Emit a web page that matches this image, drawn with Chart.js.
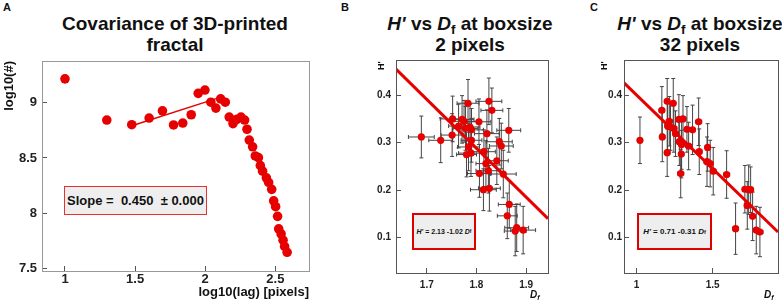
<!DOCTYPE html>
<html>
<head>
<meta charset="utf-8">
<script src="https://cdn.jsdelivr.net/npm/chart.js@4/dist/chart.umd.min.js"></script>
<style>
  body { margin: 0; width: 782px; height: 304px; position: relative; overflow: hidden; background: #fff;
         font-family: "Liberation Sans", Arial, sans-serif; color: #111; }
  canvas { position: absolute; top: 0; }
  .title { position: absolute; font-weight: bold; text-align: center; white-space: nowrap; }
  .letter { position: absolute; font-weight: bold; font-size: 11px; top: 1px; }
  .box { position: absolute; background: #eeeeee; border: 2px solid #e00000; box-sizing: border-box;
         display: flex; align-items: center; justify-content: center; font-weight: bold; white-space: nowrap; }
  .ytitle { position: absolute; font-weight: bold; font-size: 9px; transform: rotate(-90deg); transform-origin: left top; }
  .xtitle { position: absolute; font-weight: bold; font-style: italic; font-size: 10px; }
  sub { font-size: 70%; line-height: 0; vertical-align: -0.3em; }
</style>
</head>
<body>
<div class="letter" style="left:3px">A</div>
<div class="letter" style="left:341px">B</div>
<div class="letter" style="left:590px">C</div>

<div class="title" style="left:40px;width:270px;top:13px;font-size:19px;line-height:21px">Covariance of 3D-printed<br>fractal</div>
<div class="title" style="left:370px;width:200px;top:13px;font-size:19px;line-height:21px"><i>H'</i> vs <i>D</i><sub>f</sub> at boxsize<br>2 pixels</div>
<div class="title" style="left:600px;width:200px;top:13px;font-size:19px;line-height:21px"><i>H'</i> vs <i>D</i><sub>f</sub> at boxsize<br>32 pixels</div>

<canvas id="chartA" width="320" height="304" style="left:0px;width:320px;height:304px"></canvas>
<canvas id="chartB" width="200" height="304" style="left:360px;width:200px;height:304px"></canvas>
<canvas id="chartC" width="192" height="304" style="left:590px;width:192px;height:304px"></canvas>

<div class="box" style="left:64px;top:186px;width:143px;height:29px;font-size:13px;border-width:1.5px;border-color:#e83030">Slope =&nbsp; 0.450 &nbsp;± 0.000</div>
<div class="box" style="left:412px;top:213px;width:64px;height:37px;font-size:7px"><i>H'</i>&nbsp;= 2.13 -1.02&nbsp;<i>D</i><sub>f</sub></div>
<div class="box" style="left:637px;top:213px;width:75px;height:37px;font-size:8px"><i>H'</i>&nbsp;= 0.71 -0.31&nbsp;<i>D</i><sub>f</sub></div>

<div class="ytitle" style="left:376px;top:70px">H'</div>
<div class="ytitle" style="left:599px;top:70px">H'</div>
<div class="xtitle" style="left:530px;top:289px">D<sub>f</sub></div>
<div class="xtitle" style="left:764px;top:289px">D<sub>f</sub></div>

<script>
// panel A: covariance
const aLag = [1.0, 1.298, 1.476, 1.60, 1.695, 1.774, 1.84, 1.90, 1.95, 1.998, 2.04, 2.076, 2.11, 2.143,
  2.171, 2.198, 2.226, 2.255, 2.281, 2.298, 2.314, 2.338, 2.357, 2.379, 2.393, 2.409, 2.436, 2.452,
  2.474, 2.488, 2.502, 2.516, 2.524, 2.541, 2.555, 2.566, 2.584];
const aCount = [9.214, 8.842, 8.80, 8.86, 8.925, 8.798, 8.815, 8.89, 9.083, 9.113, 9.003, 8.95, 9.033, 9.003,
  8.869, 8.81, 8.848, 8.869, 8.842, 8.759, 8.661, 8.601, 8.518, 8.503, 8.431, 8.381, 8.321, 8.279,
  8.217, 8.113, 8.06, 7.973, 7.86, 7.815, 7.758, 7.702, 7.649];
const aFitX = [1.488, 2.095];
const aFitY = [8.795, 9.042];
const aXTicks = [1, 1.5, 2, 2.5];
const aYTicks = [7.5, 8, 8.5, 9];

// panel B: boxsize 2 pixels
const bDf = [1.689, 1.728, 1.751, 1.752, 1.764, 1.771, 1.775, 1.783, 1.778, 1.787, 1.79, 1.784, 1.78, 1.789,
  1.79, 1.805, 1.825, 1.831, 1.821, 1.815, 1.819, 1.806, 1.814, 1.826, 1.824, 1.841, 1.846, 1.85,
  1.865, 1.854, 1.866, 1.862, 1.881, 1.878, 1.894];
const bH = [0.312, 0.305, 0.316, 0.35, 0.335, 0.349, 0.345, 0.383, 0.33, 0.333, 0.327, 0.291, 0.275, 0.278,
  0.305, 0.344, 0.387, 0.368, 0.319, 0.281, 0.256, 0.235, 0.201, 0.204, 0.241, 0.262, 0.302, 0.293,
  0.326, 0.234, 0.17, 0.146, 0.121, 0.114, 0.116];
const bDfErr = [0.026, 0.024, 0.022, 0.025, 0.02, 0.024, 0.026, 0.022, 0.025, 0.02, 0.024, 0.022, 0.02, 0.025,
  0.021, 0.024, 0.026, 0.022, 0.025, 0.023, 0.02, 0.024, 0.026, 0.022, 0.025, 0.023, 0.026, 0.024,
  0.024, 0.026, 0.022, 0.02, 0.024, 0.022, 0.025];
const bHErr = [0.044, 0.047, 0.045, 0.048, 0.046, 0.05, 0.044, 0.05, 0.046, 0.048, 0.045, 0.05, 0.047, 0.049,
  0.046, 0.048, 0.049, 0.047, 0.05, 0.046, 0.048, 0.05, 0.044, 0.048, 0.047, 0.05, 0.049, 0.048,
  0.046, 0.05, 0.05, 0.048, 0.05, 0.052, 0.05];
const bFitX = [1.638, 1.944];
const bFitY = [0.455, 0.140];
const bXTicks = [1.7, 1.8, 1.9];

// panel C: boxsize 32 pixels
const cDf = [1.022, 1.166, 1.169, 1.201, 1.201, 1.215, 1.204, 1.223, 1.241, 1.245, 1.256, 1.278, 1.305, 1.281,
  1.296, 1.294, 1.29, 1.331, 1.342, 1.368, 1.408, 1.412, 1.467, 1.463, 1.484, 1.504, 1.592, 1.651,
  1.712, 1.737, 1.75, 1.728, 1.763, 1.787, 1.811];
const cH = [0.305, 0.368, 0.312, 0.279, 0.387, 0.345, 0.335, 0.333, 0.383, 0.33, 0.319, 0.349, 0.35, 0.302,
  0.296, 0.276, 0.235, 0.328, 0.293, 0.327, 0.344, 0.281, 0.29, 0.26, 0.256, 0.24, 0.233, 0.119,
  0.202, 0.201, 0.201, 0.168, 0.145, 0.116, 0.112];
const cDfErr = [0.005, 0.018, 0.016, 0.018, 0.015, 0.02, 0.016, 0.018, 0.015, 0.02, 0.016, 0.018, 0.02, 0.016,
  0.018, 0.015, 0.02, 0.016, 0.018, 0.015, 0.02, 0.018, 0.016, 0.02, 0.015, 0.018, 0.02, 0.018,
  0.016, 0.018, 0.015, 0.02, 0.016, 0.018, 0.02];
const cHErr = [0.049, 0.05, 0.052, 0.05, 0.048, 0.052, 0.05, 0.049, 0.052, 0.05, 0.048, 0.052, 0.049, 0.05,
  0.052, 0.05, 0.051, 0.048, 0.05, 0.052, 0.05, 0.048, 0.05, 0.052, 0.049, 0.05, 0.05, 0.054,
  0.05, 0.052, 0.048, 0.05, 0.051, 0.05, 0.052];
const cFitX = [0.917, 1.93];
const cFitY = [0.426, 0.112];
const cXTicks = [1, 1.5];
const hTicks = [0.1, 0.2, 0.3, 0.4];

const RED = '#e60000';
const FONT = '"Liberation Sans", Arial, sans-serif';

const frame = {
  id: 'frame',
  afterDraw(chart, args, opts) {
    const { ctx, chartArea: a } = chart;
    ctx.save();
    ctx.strokeStyle = opts.color || '#666';
    ctx.lineWidth = 1;
    ctx.strokeRect(Math.round(a.left) + 0.5, Math.round(a.top) + 0.5, Math.round(a.right - a.left), Math.round(a.bottom - a.top));
    ctx.restore();
  }
};

const errorBars = {
  id: 'errorBars',
  beforeDatasetsDraw(chart, args, opts) {
    if (!opts.xerr) return;
    const pts = chart.data.datasets[0].data;
    const xs = chart.scales.x, ys = chart.scales.y, ctx = chart.ctx;
    ctx.save();
    ctx.strokeStyle = '#444';
    ctx.lineWidth = 1;
    ctx.beginPath();
    pts.forEach((p, i) => {
      const px = xs.getPixelForValue(p.x), py = ys.getPixelForValue(p.y);
      const x0 = xs.getPixelForValue(p.x - opts.xerr[i]), x1 = xs.getPixelForValue(p.x + opts.xerr[i]);
      const y0 = ys.getPixelForValue(p.y - opts.yerr[i]), y1 = ys.getPixelForValue(p.y + opts.yerr[i]);
      ctx.moveTo(x0, py); ctx.lineTo(x1, py);
      ctx.moveTo(x0, py - 2); ctx.lineTo(x0, py + 2);
      ctx.moveTo(x1, py - 2); ctx.lineTo(x1, py + 2);
      ctx.moveTo(px, y0); ctx.lineTo(px, y1);
      ctx.moveTo(px - 2, y0); ctx.lineTo(px + 2, y0);
      ctx.moveTo(px - 2, y1); ctx.lineTo(px + 2, y1);
    });
    ctx.stroke();
    ctx.restore();
  }
};

function pairs(xs, ys) {
  return xs.map((x, i) => ({ x: x, y: ys[i] }));
}

function fixedTicks(list) {
  return scale => { scale.ticks = list.map(v => ({ value: v })); };
}

function makeChart(id, cfg) {
  return new Chart(document.getElementById(id), {
    type: 'scatter',
    data: {
      datasets: [
        { data: pairs(cfg.x, cfg.y), backgroundColor: RED, borderWidth: 0, pointRadius: cfg.radius, order: 2 },
        { data: pairs(cfg.fitX, cfg.fitY), showLine: true, borderColor: RED, borderWidth: cfg.lineWidth,
          pointRadius: 0, order: 1 }
      ]
    },
    options: {
      responsive: false,
      animation: false,
      devicePixelRatio: 1,
      layout: { padding: cfg.padding },
      plugins: {
        legend: { display: false },
        tooltip: { enabled: false },
        frame: { color: cfg.frameColor },
        errorBars: { xerr: cfg.xerr, yerr: cfg.yerr }
      },
      scales: {
        x: {
          min: cfg.xRange[0], max: cfg.xRange[1],
          afterBuildTicks: fixedTicks(cfg.xTicks),
          afterFit: s => { s.height = cfg.xHeight; },
          grid: { drawOnChartArea: false, tickLength: -5, color: '#555' },
          border: { display: false },
          ticks: { padding: cfg.xPad, color: '#222', font: { family: FONT, size: cfg.tickSize, weight: 'bold' },
                   maxRotation: 0, callback: v => String(v) },
          title: cfg.xTitle || { display: false }
        },
        y: {
          min: cfg.yRange[0], max: cfg.yRange[1],
          afterBuildTicks: fixedTicks(cfg.yTicks),
          afterFit: s => { s.width = cfg.yWidth; },
          grid: { drawOnChartArea: false, tickLength: -5, color: '#555' },
          border: { display: false },
          ticks: { padding: cfg.yPad, color: '#222', font: { family: FONT, size: cfg.tickSize, weight: 'bold' },
                   callback: v => String(v) },
          title: cfg.yTitle || { display: false }
        }
      }
    },
    plugins: [frame, errorBars]
  });
}

makeChart('chartA', {
  x: aLag, y: aCount, fitX: aFitX, fitY: aFitY, radius: 4.8, lineWidth: 1.5,
  xRange: [0.836, 2.74], yRange: [7.48, 9.375], xTicks: aXTicks, yTicks: aYTicks,
  padding: { top: 61, right: 11, left: 0, bottom: 0 }, xHeight: 33, yWidth: 42,
  xPad: 6, yPad: 10, tickSize: 13, frameColor: '#999',
  xTitle: { display: true, text: 'log10(lag) [pixels]', align: 'end', color: '#111',
            font: { family: FONT, size: 13, weight: 'bold' }, padding: { top: 0, bottom: 4 } },
  yTitle: { display: true, text: 'log10(#)', align: 'end', color: '#111',
            font: { family: FONT, size: 13, weight: 'bold' }, padding: { top: 2, bottom: 0 } }
});

makeChart('chartB', {
  x: bDf, y: bH, fitX: bFitX, fitY: bFitY, radius: 3.6, lineWidth: 3, xerr: bDfErr, yerr: bHErr,
  xRange: [1.638, 1.944], yRange: [0.0257, 0.474], xTicks: bXTicks, yTicks: hTicks,
  padding: { top: 60, right: 12, left: 0, bottom: 0 }, xHeight: 31, yWidth: 36,
  xPad: 11, yPad: 10, tickSize: 10, frameColor: '#555'
});

makeChart('chartC', {
  x: cDf, y: cH, fitX: cFitX, fitY: cFitY, radius: 3.6, lineWidth: 3, xerr: cDfErr, yerr: cHErr,
  xRange: [0.917, 1.93], yRange: [0.0257, 0.474], xTicks: cXTicks, yTicks: hTicks,
  padding: { top: 60, right: 4, left: 0, bottom: 0 }, xHeight: 31, yWidth: 34,
  xPad: 11, yPad: 7, tickSize: 10, frameColor: '#555'
});
</script>
</body>
</html>
